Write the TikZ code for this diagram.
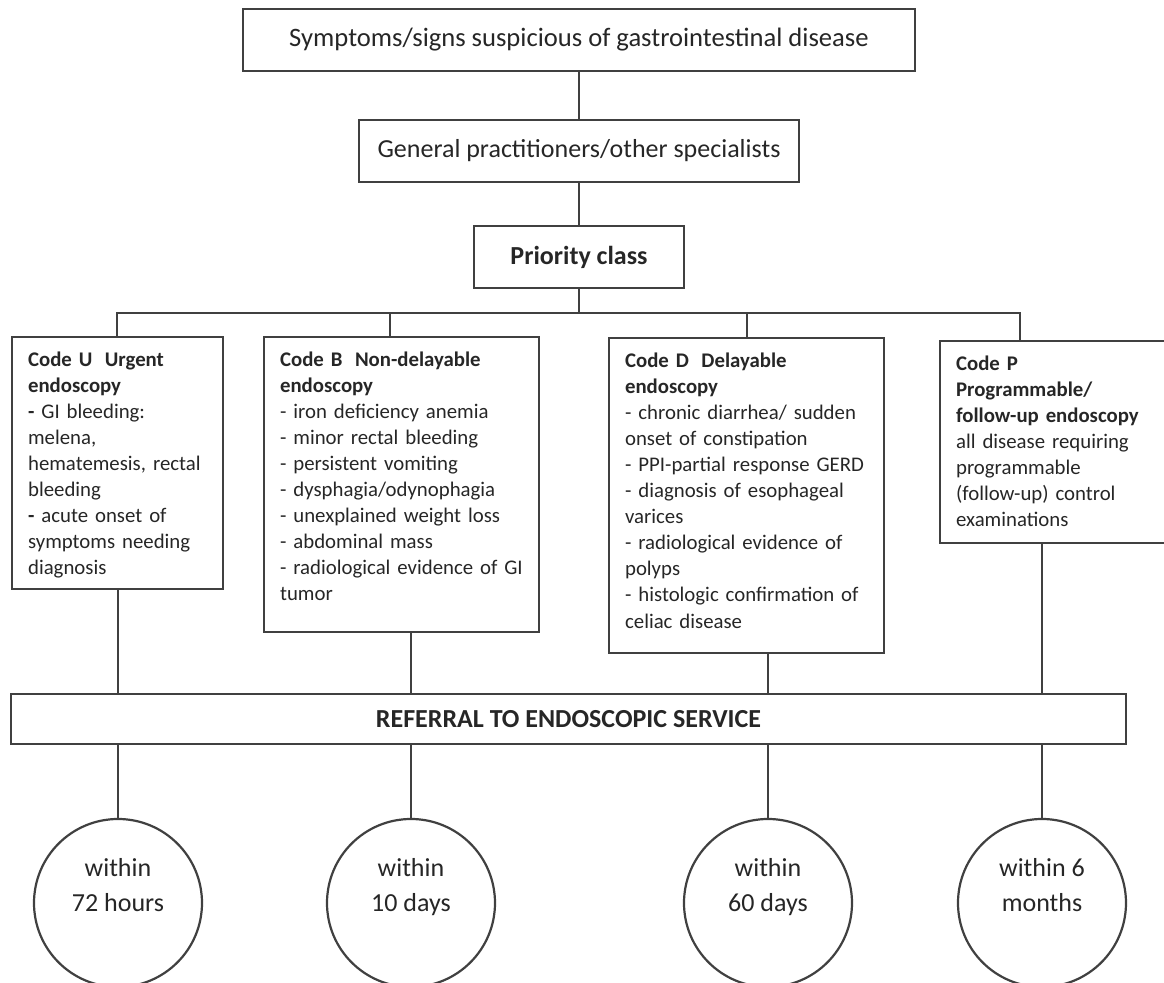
\documentclass[tikz,border=0pt]{standalone}
\usepackage{fontspec}
\setmainfont{Carlito}
\hyphenpenalty=10000
\exhyphenpenalty=10000
\tikzset{
  wire/.style = {draw=black!75, line width=1.1pt},
  box/.style = {wire, text=black!85, minimum width=#1, minimum height=31pt,
                inner sep=0pt, font=\fontsize{13}{15}\selectfont},
  codebox/.style = {wire, text=black!85, anchor=north west, align=left,
                text width=#1, inner xsep=8pt, inner ysep=7pt, text height=7.5pt,
                font=\fontsize{10.4}{13.05}\selectfont},
  circ/.style = {wire, text=black!85, circle, minimum size=84pt, inner sep=0pt,
                align=center, text height=20pt, text depth=11pt,
                font=\fontsize{13}{17.5}\selectfont}
}

\begin{document}
\begin{tikzpicture}[x=0.5pt, y=-0.5pt]
	\useasboundingbox (0,0) rectangle (1164,983);
	\def \bus{313}

	% Path to the priority class
	\node[box=336pt, font=\fontsize{13.3}{15}\selectfont] (sympt) at (579,40) {Symptoms/signs suspicious of gastrointestinal disease};
	\node[box=220pt] (gp) at (579,151) {General practitioners/other specialists};
	\node[box=105pt, font=\fontsize{13}{15}\selectfont\bfseries] (prio) at (579,257) {Priority class};

	\coordinate (bus) at (579,\bus);
	\coordinate (dU) at (117,\bus);
	\coordinate (dB) at (390,\bus);
	\coordinate (dD) at (747,\bus);
	\coordinate (dP) at (1020,\bus);

	% Codes
	\node[codebox=89.5pt, text depth=104.5pt] (codeU) at (11,336) {%
		\textbf{Code U\hspace{0.6em}Urgent}\\
		\textbf{endoscopy}\\
		\textbf{-} GI bleeding:\\
		melena,\\
		hematemesis, rectal\\
		bleeding\\
		\textbf{-} acute onset of\\
		symptoms needing\\
		diagnosis};
	\node[codebox=121.5pt, text depth=126pt] (codeB) at (263,336) {%
		\textbf{Code B\hspace{0.6em}Non-delayable}\\
		\textbf{endoscopy}\\
		- iron deficiency anemia\\
		- minor rectal bleeding\\
		- persistent vomiting\\
		- dysphagia/odynophagia\\
		- unexplained weight loss\\
		- abdominal mass\\
		- radiological evidence of GI\\
		tumor};
	\node[codebox=121.5pt, text depth=136pt] (codeD) at (608,337) {%
		\textbf{Code D\hspace{0.6em}Delayable}\\
		\textbf{endoscopy}\\
		- chronic diarrhea/ sudden\\
		onset of constipation\\
		- PPI-partial response GERD\\
		- diagnosis of esophageal\\
		varices\\
		- radiological evidence of\\
		polyps\\
		- histologic confirmation of\\
		celiac disease};
	\node[codebox=99.5pt, text depth=79.5pt] (codeP) at (939,340) {%
		\textbf{Code P}\\
		\textbf{Programmable/}\\
		\textbf{follow-up endoscopy}\\
		all disease requiring\\
		programmable\\
		(follow-up) control\\
		examinations};

	% Referral
	\node[box=557.5pt, minimum height=25pt, font=\fontsize{13}{15}\selectfont\bfseries] (ref) at (568.5,719) {REFERRAL TO ENDOSCOPIC SERVICE};

	% Time limits
	\node[circ] (tU) at (118,903) {within\\72 hours};
	\node[circ] (tB) at (411,903) {within\\10 days};
	\node[circ] (tD) at (768,903) {within\\60 days};
	\node[circ] (tP) at (1042,903) {within 6\\months};

	% Wires
	\draw[wire] (sympt) -- (gp);
	\draw[wire] (gp) -- (prio);
	\draw[wire] (prio) -- (bus);
	\draw[wire] (codeU.north -| dU) -- (dU) -- (dP) -- (codeP.north -| dP);
	\draw[wire] (dB) -- (codeB.north -| dB);
	\draw[wire] (dD) -- (codeD.north -| dD);

	\draw[wire] (codeU.south -| tU) -- (ref.north -| tU);
	\draw[wire] (codeB.south -| tB) -- (ref.north -| tB);
	\draw[wire] (codeD.south -| tD) -- (ref.north -| tD);
	\draw[wire] (codeP.south -| tP) -- (ref.north -| tP);

	\draw[wire] (ref.south -| tU) -- (tU);
	\draw[wire] (ref.south -| tB) -- (tB);
	\draw[wire] (ref.south -| tD) -- (tD);
	\draw[wire] (ref.south -| tP) -- (tP);
\end{tikzpicture}
\end{document}
